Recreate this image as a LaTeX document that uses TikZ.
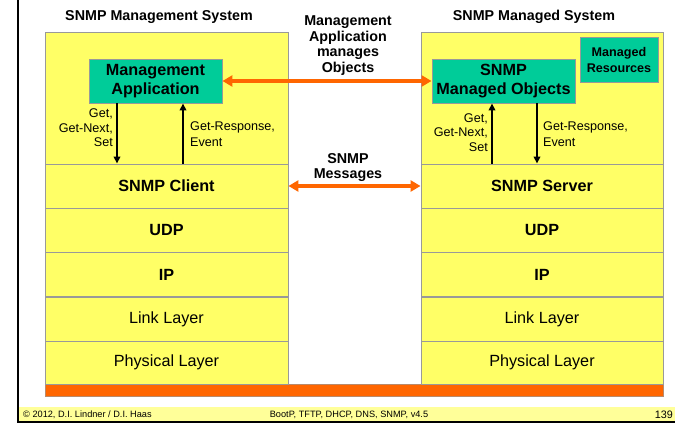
\documentclass[tikz,border=0pt]{standalone}
\usepackage{fontspec}
\setmainfont{Liberation Sans}
\usetikzlibrary{arrows.meta}
\definecolor{layery}{HTML}{FFFF66}
\definecolor{teal2}{HTML}{00CC99}
\definecolor{orng}{HTML}{FF6600}
\definecolor{bordg}{HTML}{999999}
\definecolor{foot}{HTML}{FFFF99}
\newcommand{\fs}[2]{\fontsize{#1}{#2}\selectfont}
\begin{document}
\begin{tikzpicture}[x=1pt,y=-1pt,
  layer/.style={draw=bordg,fill=layery,line width=0.9pt,inner sep=0pt,minimum height=44pt},
  lw/.style={minimum width=243pt},
  rw/.style={minimum width=242pt},
  tealbox/.style={draw=bordg,fill=teal2,line width=0.9pt,inner sep=0pt,align=center},
  oarr/.style={draw=orng,line width=3.5pt,{Triangle[length=10pt,width=11pt]}-{Triangle[length=10pt,width=11pt]}},
  barr/.style={draw=black,line width=2pt,-{Triangle[length=7pt,width=6.5pt]}},
  lbl/.style={inner sep=0pt,font=\fs{12.6}{14.5},align=right},
  lblr/.style={inner sep=0pt,font=\fs{12.6}{15.5},align=left},
  ttl/.style={inner sep=0pt,font=\fs{14.3}{15.7}\bfseries,align=center},
  lay/.style={font=\fs{16.2}{20}},
  layb/.style={font=\fs{16.2}{20}\bfseries}
]
\useasboundingbox (0,0) rectangle (675,423);
% frame
\fill[foot] (19,407) rectangle (675,421);
\draw[line width=1.6pt] (18,0) -- (18,423);
\draw[line width=2pt] (18,422) -- (675,422);
% orange base bar
\node[draw=bordg!70!orng,fill=orng,line width=0.8pt,inner sep=0pt,minimum width=618pt,minimum height=12pt] (bar) at (354,390.5) {};
% left stack
\node[layer,lw,minimum height=132pt] (ltop) at (166.5,98) {};
\node[layer,lw,layb] (lc) at (166.5,186) {SNMP Client};
\node[layer,lw,layb] (lu) at (166.5,230) {UDP};
\node[layer,lw,layb] (li) at (166.5,274.5) {IP};
\node[layer,lw,lay] (ll) at (166.5,319) {Link Layer};
\node[layer,lw,lay,minimum height=43pt] (lp) at (166.5,362.5) {Physical Layer};
% right stack
\node[layer,rw,minimum height=132pt] (rtop) at (542,98) {};
\node[layer,rw,layb] (rc) at (542,186) {SNMP Server};
\node[layer,rw,layb] (ru) at (542,230) {UDP};
\node[layer,rw,layb] (ri) at (542,274.5) {IP};
\node[layer,rw,lay] (rl) at (542,319) {Link Layer};
\node[layer,rw,lay,minimum height=43pt] (rp) at (542,362.5) {Physical Layer};
% teal boxes
\node[tealbox,minimum width=133pt,minimum height=44pt,font=\fs{16.2}{19.5}\bfseries] (ma) at (155.5,81) {Management\\Application};
\node[tealbox,minimum width=143pt,minimum height=44pt,font=\fs{16.2}{19.5}\bfseries] (mo) at (503.5,81) {SNMP\\Managed Objects};
\node[tealbox,minimum width=78pt,minimum height=45pt,font=\fs{12.6}{16}\bfseries] (mr) at (619,59.5) {Managed\\Resources};
% titles
\node[ttl] (t1) at (159,17) {SNMP Management System};
\node[ttl] (t2) at (534,17) {SNMP Managed System};
\node[ttl] (t3) at (348,45.5) {Management\\Application\\manages\\Objects};
\node[ttl] (t4) at (348,167.5) {SNMP\\Messages};
% orange arrows
\draw[oarr] (ma.east) -- (mo.west);
\draw[oarr] (lc.east) -- (rc.west);
% black arrows
\coordinate (xa) at (117,0);
\coordinate (xb) at (183,0);
\coordinate (xc) at (492,0);
\coordinate (xd) at (537,0);
\draw[barr] (ma.south -| xa) -- (lc.north -| xa);
\draw[barr] (lc.north -| xb) -- (ma.south -| xb);
\draw[barr] (rc.north -| xc) -- (mo.south -| xc);
\draw[barr] (mo.south -| xd) -- (rc.north -| xd);
% small labels
\node[lbl,anchor=east] (g1) at (113,128) {Get,\\Get-Next,\\Set};
\node[lblr,anchor=west] (r1) at (190,134) {Get-Response,\\Event};
\node[lbl,anchor=east] (g2) at (488,132.5) {Get,\\Get-Next,\\Set};
\node[lblr,anchor=west] (r2) at (543,134) {Get-Response,\\Event};
% footer
\node[inner sep=0pt,anchor=west,font=\fs{9.2}{11}] (f1) at (23,414.5) {© 2012, D.I. Lindner / D.I. Haas};
\node[inner sep=0pt,font=\fs{9.2}{11}] (f2) at (349,414.5) {BootP, TFTP, DHCP, DNS, SNMP, v4.5};
\node[inner sep=0pt,anchor=east,font=\fs{10.8}{12}] (f3) at (673,414.5) {139};
\end{tikzpicture}
\end{document}
